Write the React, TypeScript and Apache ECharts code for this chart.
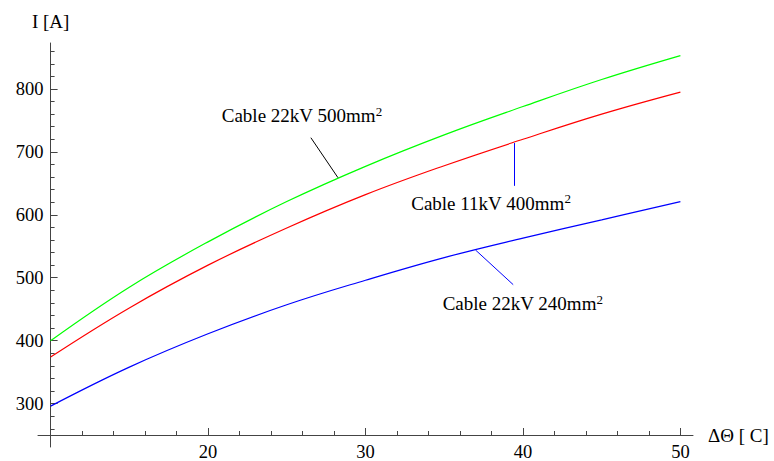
import React, { useEffect, useRef } from "react";
import * as echarts from "echarts";

// ΔΘ values [°C]
const deltaTheta = [10, 15, 20, 25, 30, 35, 40, 45, 50];
// Current I [A]
const cable22kV500 = [400, 485, 557, 621, 677, 727, 772, 815, 853];
const cable11kV400 = [374, 452, 520, 579, 632, 678, 720, 760, 795];
const cable22kV240 = [296, 358, 411, 457, 496, 532, 563, 592, 621];

const xMajorTicks = [20, 30, 40, 50];
const xMinorTicks = [12, 14, 16, 18, 22, 24, 26, 28, 32, 34, 36, 38, 42, 44, 46, 48];
const yMajorTicks = [300, 400, 500, 600, 700, 800];
const yMinorTicks = [260, 280, 320, 340, 360, 380, 420, 440, 460, 480, 520, 540, 560, 580, 620, 640, 660, 680, 720, 740, 760, 780, 820, 840, 860];

const labelGreen = "Cable 22kV 500mm";
const labelRed = "Cable 11kV 400mm";
const labelBlue = "Cable 22kV 240mm";

// annotation anchors in data units: [label centre], [leader start], [leader end on curve]
const greenLabelAt = [25.96, 757];
const greenLeader = [[26.53, 722.5], [28.25, 659]];
const redLabelAt = [37.97, 618];
const redLeader = [[39.44, 714], [39.44, 646]];
const blueLabelAt = [39.99, 459];
const blueLeader = [[36.99, 544], [39.38, 489]];

const FONT = "'Liberation Serif', 'Times New Roman', serif";

function pairs(ys: number[]) {
  return deltaTheta.map((x, i) => [x, ys[i]]);
}

function labelPoint(coord: number[], text: string) {
  return {
    coord,
    symbol: "rect",
    symbolSize: 1,
    itemStyle: { color: "rgba(0,0,0,0)" },
    label: {
      show: true,
      position: "inside",
      formatter: "{b|" + text + "}{s|2}",
      rich: {
        b: { fontFamily: FONT, fontSize: 19, color: "#000", lineHeight: 22 },
        s: { fontFamily: FONT, fontSize: 13, color: "#000", verticalAlign: "top", lineHeight: 13, padding: [0, 0, 12, 0] },
      },
    },
  };
}

function makeSeries(name: string, ys: number[], color: string, labelAt: number[], text: string, leader: number[][], leaderColor: string) {
  return {
    name,
    type: "line",
    xAxisIndex: 0,
    yAxisIndex: 0,
    data: pairs(ys),
    smooth: 0.4,
    showSymbol: false,
    symbol: "none",
    lineStyle: { color, width: 1.2 },
    itemStyle: { color },
    markLine: {
      silent: true,
      symbol: ["none", "none"],
      label: { show: false },
      lineStyle: { color: leaderColor, width: 1, type: "solid" },
      data: [[{ coord: leader[0] }, { coord: leader[1] }]],
    },
    markPoint: {
      silent: true,
      data: [labelPoint(labelAt, text)],
    },
  };
}

export default function App() {
  const ref = useRef<HTMLDivElement>(null);
  useEffect(() => {
    if (!ref.current) return;
    const chart = echarts.init(ref.current, undefined, { renderer: "svg" });
    const axisColor = "#444";
    chart.setOption({
      animation: false,
      backgroundColor: "#fff",
      grid: { left: 38, right: 81, top: 43, bottom: 13, containLabel: false },
      xAxis: [
        {
          type: "value",
          min: 9.2,
          max: 50.8,
          offset: -12,
          position: "bottom",
          name: "ΔΘ [ C]",
          nameLocation: "end",
          nameGap: 15,
          nameTextStyle: { fontFamily: FONT, fontSize: 19, color: "#000", verticalAlign: "middle" },
          axisLine: { show: true, onZero: false, lineStyle: { color: axisColor, width: 1 } },
          axisTick: { show: true, inside: true, length: 7, customValues: xMajorTicks, lineStyle: { color: axisColor } },
          axisLabel: { show: true, customValues: xMajorTicks, margin: 7, fontFamily: FONT, fontSize: 18.5, color: "#000" },
          splitLine: { show: false },
        },
        {
          type: "value",
          min: 9.2,
          max: 50.8,
          offset: -12,
          position: "bottom",
          axisLine: { show: false, onZero: false },
          axisTick: { show: true, inside: true, length: 4, customValues: xMinorTicks, lineStyle: { color: axisColor } },
          axisLabel: { show: false },
          splitLine: { show: false },
        },
      ],
      yAxis: [
        {
          type: "value",
          min: 231,
          max: 873,
          offset: -12.6,
          position: "left",
          name: "I [A]",
          nameLocation: "end",
          nameGap: 12,
          nameTextStyle: { fontFamily: FONT, fontSize: 19, color: "#000", align: "center" },
          axisLine: { show: true, onZero: false, lineStyle: { color: axisColor, width: 1 } },
          axisTick: { show: true, inside: true, length: 7, customValues: yMajorTicks, lineStyle: { color: axisColor } },
          axisLabel: { show: true, customValues: yMajorTicks, margin: 7, fontFamily: FONT, fontSize: 18.5, color: "#000" },
          splitLine: { show: false },
        },
        {
          type: "value",
          min: 231,
          max: 873,
          offset: -12.6,
          position: "left",
          axisLine: { show: false, onZero: false },
          axisTick: { show: true, inside: true, length: 4, customValues: yMinorTicks, lineStyle: { color: axisColor } },
          axisLabel: { show: false },
          splitLine: { show: false },
        },
      ],
      series: [
        makeSeries("Cable 22kV 240mm2", cable22kV240, "#0000ff", blueLabelAt, labelBlue, blueLeader, "#0000ff"),
        makeSeries("Cable 11kV 400mm2", cable11kV400, "#ff0000", redLabelAt, labelRed, redLeader, "#0000ff"),
        makeSeries("Cable 22kV 500mm2", cable22kV500, "#00ff00", greenLabelAt, labelGreen, greenLeader, "#000000"),
      ],
    });
    return () => chart.dispose();
  }, []);
  return <div ref={ref} style={{ position: "fixed", left: 0, top: 0, width: 774, height: 461, background: "#fff" }} />;
}
